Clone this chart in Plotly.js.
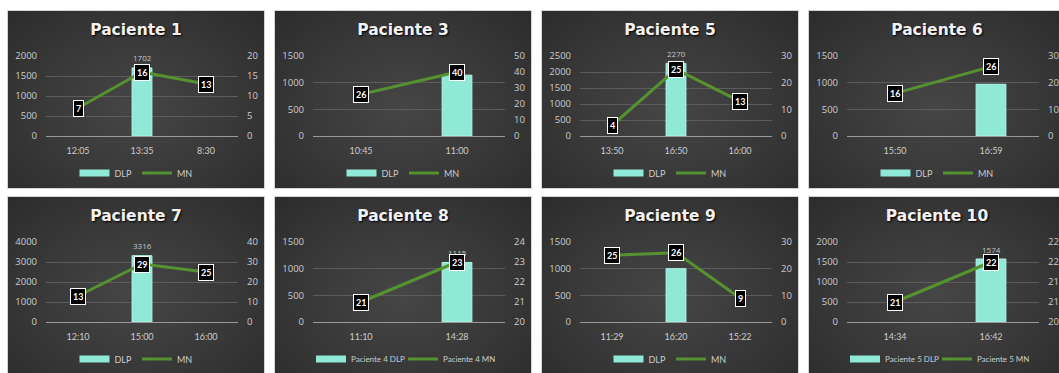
<!DOCTYPE html>
<html><head><meta charset="utf-8">
<script src="https://cdn.plot.ly/plotly-3.0.1.min.js"></script>
<style>
html,body{margin:0;padding:0;background:#fff;overflow:hidden;width:1059px;height:373px;}
.panel{position:absolute;width:256px;height:177px;border:1px solid #d4d4d4;background:radial-gradient(ellipse at 50% 55%, #464646 0%, #383838 55%, #2c2c2c 100%);}
.panel > div{width:256px;height:177px;}
</style></head><body>
<script>
// ---- Data ----
const p1Times = ['12:05', '13:35', '8:30'];
const p1DLP   = [null, 1702, null];
const p1MN    = [7, 16, 13];

const p3Times = ['10:45', '11:00'];
const p3DLP   = [null, 1140];
const p3MN    = [26, 40];

const p5Times = ['13:50', '16:50', '16:00'];
const p5DLP   = [null, 2270, null];
const p5MN    = [4, 25, 13];

const p6Times = ['15:50', '16:59'];
const p6DLP   = [null, 970];
const p6MN    = [16, 26];

const p7Times = ['12:10', '15:00', '16:00'];
const p7DLP   = [null, 3316, null];
const p7MN    = [13, 29, 25];

const p8Times = ['11:10', '14:28'];
const p8DLP   = [null, 1115];
const p8MN    = [21, 23];

const p9Times = ['11:29', '16:20', '15:22'];
const p9DLP   = [null, 1000, null];
const p9MN    = [25, 26, 9];

const p10Times = ['14:34', '16:42'];
const p10DLP   = [null, 1574];
const p10MN    = [21, 22];

const panelTitles = ['Paciente 1','Paciente 3','Paciente 5','Paciente 6','Paciente 7','Paciente 8','Paciente 9','Paciente 10'];
const barNames  = ['DLP','DLP','DLP','DLP','DLP','Paciente 4 DLP','DLP','Paciente 5 DLP'];
const lineNames = ['MN','MN','MN','MN','MN','Paciente 4 MN','MN','Paciente 5 MN'];

// ---- Panel configuration ----
const panels = [
  {t:p1Times,  d:p1DLP,  m:p1MN,  y1:[0,2000,500],  y2:[0,20,5],     lbl:true},
  {t:p3Times,  d:p3DLP,  m:p3MN,  y1:[0,1500,500],  y2:[0,50,10],    lbl:false},
  {t:p5Times,  d:p5DLP,  m:p5MN,  y1:[0,2500,500],  y2:[0,30,10],    lbl:true},
  {t:p6Times,  d:p6DLP,  m:p6MN,  y1:[0,1500,500],  y2:[0,30,10],    lbl:false},
  {t:p7Times,  d:p7DLP,  m:p7MN,  y1:[0,4000,1000], y2:[0,40,10],    lbl:true},
  {t:p8Times,  d:p8DLP,  m:p8MN,  y1:[0,1500,500],  y2:[20,24,1],    lbl:true},
  {t:p9Times,  d:p9DLP,  m:p9MN,  y1:[0,1500,500],  y2:[0,30,10],    lbl:false},
  {t:p10Times, d:p10DLP, m:p10MN, y1:[0,2000,500],  y2:[20.5,22.5,0.5], lbl:true}
];
const lefts = [7, 274, 541, 808];
const tops  = [10, 196];

const FONT = 'Lato, "Open Sans", sans-serif';
const tickFont = {family: '"Open Sans", Lato, sans-serif', size: 9.5, color: '#cccccc'};
const catFont = {family: FONT, size: 9, color: '#cccccc'};
const BAR_COLOR = '#8fe9d6';
const LINE_COLOR = '#56922f';

panels.forEach((p, i) => {
  const wrap = document.createElement('div');
  wrap.className = 'panel';
  wrap.style.left = lefts[i % 4] + 'px';
  wrap.style.top = tops[Math.floor(i / 4)] + 'px';
  const inner = document.createElement('div');
  inner.id = 'plot' + i;
  wrap.appendChild(inner);
  document.body.appendChild(wrap);

  const bar = {
    type: 'bar', x: p.t, y: p.d, name: barNames[i], showlegend: false,
    marker: {color: BAR_COLOR, line: {color: '#b5f5e8', width: 1}},
    hoverinfo: 'skip'
  };
  // legend-only proxy so the bar swatch is drawn as a wide strip like the reference
  const barKey = {
    type: 'scatter', mode: 'lines', x: [null], y: [null], name: barNames[i],
    line: {color: BAR_COLOR, width: 7}, hoverinfo: 'skip'
  };
  const line = {
    type: 'scatter', mode: 'lines', x: p.t, y: p.m, yaxis: 'y2', name: lineNames[i],
    line: {color: LINE_COLOR, width: 3}, hoverinfo: 'skip'
  };
  const annotations = [];
  if (p.lbl) {
    p.d.forEach((v, k) => {
      if (v == null) return;
      annotations.push({x: p.t[k], y: v, xref: 'x', yref: 'y', text: String(v), showarrow: false,
        yanchor: 'middle', yshift: 10, font: {family: '"Open Sans", sans-serif', size: 8, color: '#c4c4c4'}});
    });
  }
  p.m.forEach((v, k) => {
    annotations.push({x: p.t[k], y: v, xref: 'x', yref: 'y2', text: '<b>' + v + '</b>', showarrow: false,
      bgcolor: '#000000', bordercolor: '#ffffff', borderwidth: 1, borderpad: 2,
      font: {family: FONT, size: 9, color: '#ffffff'}});
  });

  const longLegend = barNames[i].length > 5;
  const legend = {orientation: 'h', xref: 'container', yref: 'container', x: 0.5, xanchor: 'center',
    y: 1 - 162 / 177, yanchor: 'middle',
    font: {family: FONT, size: longLegend ? 8 : 9, color: '#cccccc'}, bgcolor: 'rgba(0,0,0,0)', itemwidth: 30, tracegroupgap: 0};
  if (longLegend) { legend.entrywidthmode = 'pixels'; legend.entrywidth = 47; }

  const layout = {
    width: 256, height: 177,
    margin: {l: 38, r: 26, t: 45, b: 52},
    paper_bgcolor: 'rgba(0,0,0,0)', plot_bgcolor: 'rgba(0,0,0,0)',
    showlegend: true,
    title: {text: panelTitles[i], x: 0.5, xanchor: 'center', y: 0.893, yanchor: 'middle', yref: 'container',
      font: {family: '"DejaVu Sans", sans-serif', size: 15.5, weight: 700, color: '#f2f2f2', shadow: '1px 1px 2px #000'}},
    bargap: 0.69,
    xaxis: {type: 'category', showgrid: false, showline: true, linecolor: '#9a9a9a', linewidth: 1,
      ticks: '', tickfont: catFont, ticklabelstandoff: 6, fixedrange: true},
    yaxis: {range: [p.y1[0], p.y1[1]], dtick: p.y1[2], tick0: p.y1[0], showgrid: true, gridcolor: '#5c5c5c',
      gridwidth: 1, zeroline: false, showline: false, ticks: '', tickfont: tickFont, ticklabelstandoff: 8, fixedrange: true},
    yaxis2: {range: [p.y2[0], p.y2[1]], dtick: p.y2[2], tick0: p.y2[0], overlaying: 'y', side: 'right',
      showgrid: false, zeroline: false, showline: false, ticks: '', tickfont: tickFont, ticklabelstandoff: 8, fixedrange: true},
    legend: legend,
    annotations: annotations
  };
  Plotly.newPlot(inner, [bar, barKey, line], layout, {displayModeBar: false, staticPlot: true});
});
</script>
</body></html>
